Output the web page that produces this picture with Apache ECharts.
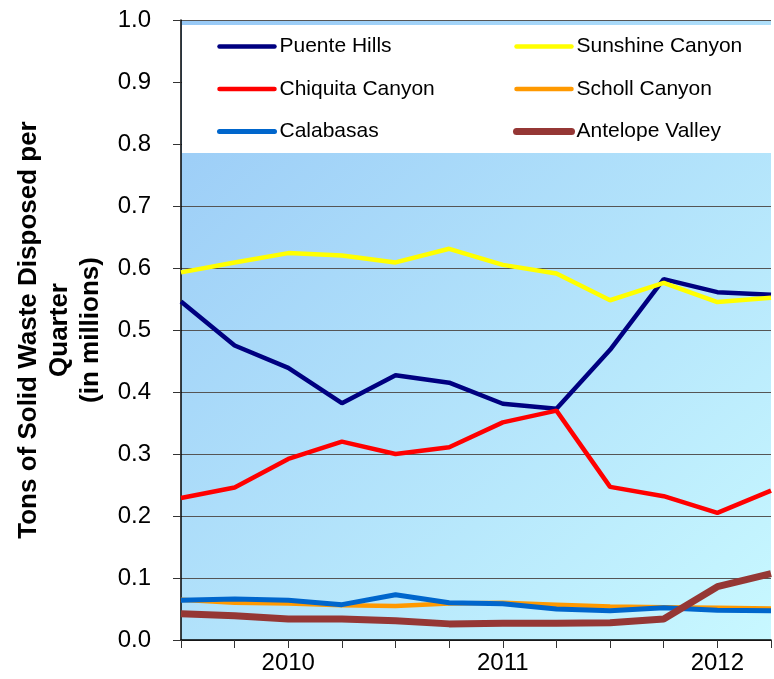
<!DOCTYPE html>
<html>
<head>
<meta charset="utf-8">
<script src="https://cdn.jsdelivr.net/npm/echarts@6/dist/echarts.min.js"></script>
<style>
  html, body { margin: 0; padding: 0; background: #fff; }
  #chart { width: 774px; height: 679px; }
</style>
</head>
<body>
<div id="chart"></div>
<script>
// quarters, first point is Q3 2009
const quarters = ['Q3 2009', 'Q4 2009', 'Q1 2010', 'Q2 2010', 'Q3 2010', 'Q4 2010',
  'Q1 2011', 'Q2 2011', 'Q3 2011', 'Q4 2011', 'Q1 2012', 'Q2 2012']

// tons per quarter, millions
const puenteHills = [0.546, 0.475, 0.439, 0.382, 0.427, 0.415, 0.381, 0.373, 0.468, 0.582, 0.561, 0.557]
const sunshineCanyon = [0.593, 0.609, 0.624, 0.620, 0.609, 0.631, 0.605, 0.591, 0.548, 0.576, 0.545, 0.552]
const chiquitaCanyon = [0.229, 0.246, 0.292, 0.320, 0.300, 0.311, 0.351, 0.370, 0.247, 0.232, 0.205, 0.241]
const schollCanyon = [0.065, 0.060, 0.059, 0.056, 0.055, 0.059, 0.060, 0.057, 0.054, 0.053, 0.052, 0.051]
const calabasas = [0.064, 0.066, 0.064, 0.057, 0.073, 0.060, 0.0585, 0.050, 0.047, 0.052, 0.048, 0.047]
const antelopeValley = [0.0425, 0.039, 0.034, 0.034, 0.031, 0.026, 0.027, 0.027, 0.028, 0.034, 0.086, 0.107]

const chart = echarts.init(document.getElementById('chart'))

function line(name, data, color, width) {
  return {
    name: name,
    type: 'line',
    symbol: 'none',
    data: data,
    lineStyle: { color: color, width: width },
    itemStyle: { color: color },
    emphasis: { disabled: true }
  }
}

const legendBase = {
  orient: 'vertical',
  top: 36,
  padding: 0,
  itemWidth: 55,
  itemHeight: 14,
  itemGap: 21.5,
  selectedMode: false,
  // hide the marker dot, keep only the line
  itemStyle: { opacity: 0, color: 'rgba(0,0,0,0)', borderWidth: 0 },
  lineStyle: { width: 'inherit', cap: 'round' },
  textStyle: { fontFamily: 'Liberation Sans, Arial', fontSize: 21, color: '#000', lineHeight: 21 }
}

chart.setOption({
  animation: false,
  grid: {
    left: 181,
    top: 20,
    bottom: 39,
    width: 598,
    show: true,
    borderWidth: 0,
    backgroundColor: new echarts.graphic.LinearGradient(0, 0, 1, 1, [
      { offset: 0, color: '#98c9f6' },
      { offset: 1, color: '#c8f8ff' }
    ])
  },
  graphic: [{
    type: 'rect',
    z: 1,
    shape: { x: 182, y: 25, width: 600, height: 128 },
    style: { fill: '#fff' }
  }],
  legend: [
    Object.assign({ left: 217, data: ['Puente Hills', 'Chiquita Canyon', 'Calabasas'] }, legendBase),
    Object.assign({ left: 513, data: ['Sunshine Canyon', 'Scholl Canyon', 'Antelope Valley'] }, legendBase)
  ],
  xAxis: {
    type: 'category',
    boundaryGap: false,
    data: quarters,
    axisLine: { lineStyle: { color: '#000', width: 1.5 } },
    axisTick: { interval: 0, length: 8, lineStyle: { color: '#333' } },
    axisLabel: {
      interval: 0,
      margin: 11,
      fontFamily: 'Liberation Sans, Arial',
      fontSize: 24,
      color: '#000',
      formatter: function (v) { return v.indexOf('Q1') === 0 ? v.slice(3) : '' }
    },
    splitLine: { show: false }
  },
  yAxis: {
    type: 'value',
    min: 0,
    max: 1,
    interval: 0.1,
    name: 'Tons of Solid Waste Disposed per\nQuarter\n(in millions)',
    nameLocation: 'middle',
    nameRotate: 90,
    nameGap: 71,
    nameTextStyle: {
      fontFamily: 'Liberation Sans, Arial',
      fontWeight: 'bold',
      fontSize: 26,
      lineHeight: 31,
      color: '#000',
      align: 'center'
    },
    axisLine: { show: true, lineStyle: { color: '#000', width: 1.5 } },
    axisTick: { show: true, length: 8, lineStyle: { color: '#333' } },
    axisLabel: {
      margin: 30,
      fontFamily: 'Liberation Sans, Arial',
      fontSize: 24,
      color: '#000',
      formatter: function (v) { return v.toFixed(1) }
    },
    splitLine: { lineStyle: { color: '#555', width: 1 } }
  },
  series: [
    line('Puente Hills', puenteHills, '#000080', 4.5),
    line('Sunshine Canyon', sunshineCanyon, '#ffff00', 4.5),
    line('Chiquita Canyon', chiquitaCanyon, '#ff0000', 4.5),
    line('Scholl Canyon', schollCanyon, '#ff9900', 4.5),
    line('Calabasas', calabasas, '#0066cc', 5),
    line('Antelope Valley', antelopeValley, '#953735', 7)
  ]
})
</script>
</body>
</html>
